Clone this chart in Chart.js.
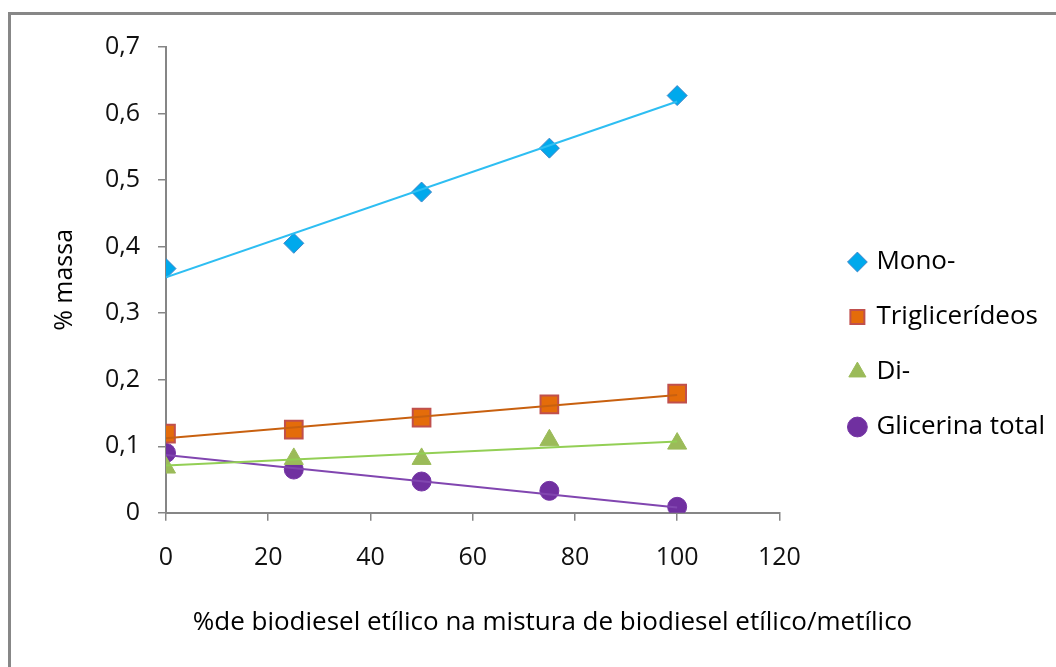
<!DOCTYPE html>
<html lang="pt">
<head>
<meta charset="UTF-8">
<title>% massa</title>
<script src="https://cdn.jsdelivr.net/npm/chart.js@4.4.1/dist/chart.umd.min.js"></script>
<style>
  body { margin: 0; background: #fff; }
  #frame { position: absolute; left: 8px; top: 12px; width: 1100px; height: 700px;
           border-left: 3px solid #878787; border-top: 3px solid #878787; }
  canvas { position: absolute; left: 0; top: 0; }
</style>
</head>
<body>
<div id="frame"></div>
<canvas id="myChart" width="1056" height="667"></canvas>
<script>
// valores
const xValues = [0, 25, 50, 75, 100];
const mono = [0.367, 0.405, 0.482, 0.548, 0.627];
const trig = [0.119, 0.125, 0.143, 0.163, 0.179];
const di = [0.068, 0.081, 0.081, 0.109, 0.104];
const glic = [0.090, 0.065, 0.047, 0.033, 0.009];

// linhas de tendencia (extremos)
const trendX = [0, 100];
const monoTrend = [0.354, 0.618];
const trigTrend = [0.112, 0.177];
const diTrend = [0.071, 0.107];
const glicTrend = [0.087, 0.008];

const seriesNames = ['Mono-', 'Triglicerídeos', 'Di-', 'Glicerina total'];
const yTickLabels = ['0', '0,1', '0,2', '0,3', '0,4', '0,5', '0,6', '0,7'];

const FONT = "'Open Sans'";
const AXIS = '#868686';

function pts(xs, ys) {
  return xs.map((x, i) => ({ x: x, y: ys[i] }));
}

function markers(label, ys, style, radius, fill, border, bw) {
  return {
    label: label, data: pts(xValues, ys), showLine: false, order: 1,
    pointStyle: style, pointRadius: radius,
    backgroundColor: fill, borderColor: border, borderWidth: bw,
    pointBackgroundColor: fill, pointBorderColor: border, pointBorderWidth: bw
  };
}

function trend(ys, color) {
  return {
    label: '', data: pts(trendX, ys), showLine: true, order: 0,
    borderColor: color, borderWidth: 2, pointRadius: 0, fill: false
  };
}

const ctx = document.getElementById('myChart').getContext('2d');
const myChart = new Chart(ctx, {
  type: 'scatter',
  data: {
    datasets: [
      markers(seriesNames[0], mono, 'rectRot', 10, '#00a9ec', '#3f86c9', 1),
      markers(seriesNames[1], trig, 'rect', 12.5, '#e46c0a', '#c0504d', 2),
      markers(seriesNames[2], di, 'triangle', 11, '#9bbb59', '#9bbb59', 1),
      markers(seriesNames[3], glic, 'circle', 9.5, '#7030a0', '#7535a5', 1),
      trend(monoTrend, '#2ebef2'),
      trend(trigTrend, '#c8600f'),
      trend(diTrend, '#93cf55'),
      trend(glicTrend, '#8146b0')
    ]
  },
  options: {
    responsive: false,
    animation: false,
    layout: { padding: { left: 50, top: 47, right: 1, bottom: 25 } },
    plugins: {
      tooltip: { enabled: false },
      title: {
        display: true, position: 'bottom',
        text: '%de biodiesel etílico na mistura de biodiesel etílico/metílico',
        color: '#000', font: { family: FONT, size: 26, weight: 'normal' },
        padding: { top: 0, bottom: 4 }
      },
      legend: {
        position: 'right',
        maxWidth: 320,
        labels: {
          filter: item => item.text !== '',
          usePointStyle: true, boxWidth: 12, boxHeight: 14, padding: 29,
          color: '#000', font: { family: FONT, size: 26 }
        }
      }
    },
    scales: {
      x: {
        type: 'linear', min: 0, max: 120,
        ticks: { stepSize: 20, color: '#111', padding: 22, font: { family: FONT, size: 25 } },
        grid: { drawOnChartArea: false, tickLength: 8, color: AXIS, lineWidth: 1.5 },
        border: { color: AXIS, width: 2 },
        afterFit(s) { s.height = 94; }
      },
      y: {
        min: 0, max: 0.7,
        ticks: {
          stepSize: 0.1, color: '#111', padding: 18, font: { family: FONT, size: 25 },
          callback: (v, i) => yTickLabels[i]
        },
        grid: { drawOnChartArea: false, tickLength: 8, color: AXIS, lineWidth: 1.5 },
        border: { color: AXIS, width: 2 },
        title: {
          display: true, text: '% massa', color: '#000',
          font: { family: FONT, size: 25 }, padding: { top: 0, bottom: 0 }
        },
        afterFit(s) { s.width = 116; }
      },
      gap: {
        type: 'linear', position: 'right', display: true,
        grid: { display: false }, border: { display: false }, ticks: { display: false },
        afterFit(s) { s.width = 43; }
      }
    }
  }
});
</script>
</body>
</html>
